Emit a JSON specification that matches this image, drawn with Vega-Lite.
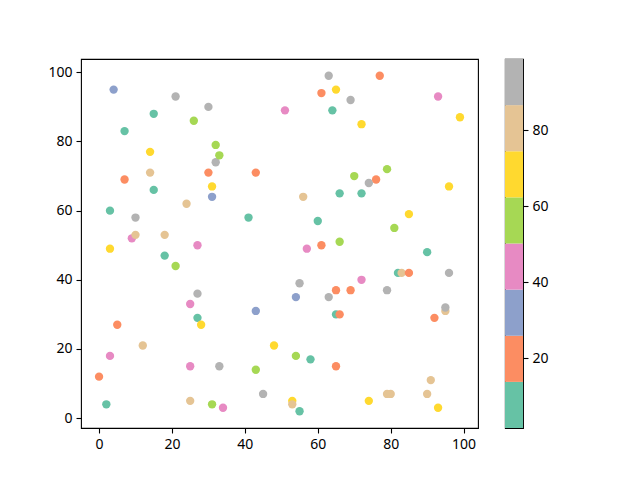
{
  "$schema": "https://vega.github.io/schema/vega-lite/v6.json",
  "background": "#ffffff",
  "padding": {"left": 47, "top": 58, "right": 5, "bottom": 5},
  "spacing": 25,
  "config": {
    "view": {"stroke": "#000000", "strokeWidth": 1.1},
    "axis": {
      "domain": false,
      "grid": false,
      "title": null,
      "labelFont": "Noto Sans",
      "labelFontSize": 14,
      "labelColor": "#000000",
      "tickColor": "#000000",
      "tickSize": 5,
      "tickWidth": 1.1,
      "labelPadding": 4
    }
  },
  "datasets": {
    "points": [
      {"x": 4, "y": 95, "c": 32}, {"x": 21, "y": 93, "c": 92}, {"x": 30, "y": 90, "c": 92},
      {"x": 15, "y": 88, "c": 7}, {"x": 26, "y": 86, "c": 56}, {"x": 7, "y": 83, "c": 7},
      {"x": 51, "y": 89, "c": 44}, {"x": 14, "y": 77, "c": 68}, {"x": 32, "y": 74, "c": 92},
      {"x": 32, "y": 79, "c": 56}, {"x": 33, "y": 76, "c": 56}, {"x": 14, "y": 71, "c": 80},
      {"x": 30, "y": 71, "c": 20}, {"x": 43, "y": 71, "c": 20}, {"x": 7, "y": 69, "c": 20},
      {"x": 31, "y": 67, "c": 68}, {"x": 15, "y": 66, "c": 7}, {"x": 31, "y": 64, "c": 32},
      {"x": 24, "y": 62, "c": 80}, {"x": 3, "y": 60, "c": 7}, {"x": 10, "y": 58, "c": 92},
      {"x": 41, "y": 58, "c": 7}, {"x": 9, "y": 52, "c": 44}, {"x": 10, "y": 53, "c": 80},
      {"x": 18, "y": 53, "c": 80}, {"x": 27, "y": 50, "c": 44}, {"x": 3, "y": 49, "c": 68},
      {"x": 63, "y": 99, "c": 92}, {"x": 77, "y": 99, "c": 20}, {"x": 61, "y": 94, "c": 20},
      {"x": 65, "y": 95, "c": 68}, {"x": 69, "y": 92, "c": 92}, {"x": 64, "y": 89, "c": 7},
      {"x": 93, "y": 93, "c": 44}, {"x": 99, "y": 87, "c": 68}, {"x": 72, "y": 85, "c": 68},
      {"x": 79, "y": 72, "c": 56}, {"x": 70, "y": 70, "c": 56}, {"x": 74, "y": 68, "c": 92},
      {"x": 76, "y": 69, "c": 20}, {"x": 96, "y": 67, "c": 68}, {"x": 56, "y": 64, "c": 80},
      {"x": 66, "y": 65, "c": 7}, {"x": 72, "y": 65, "c": 7}, {"x": 85, "y": 59, "c": 68},
      {"x": 60, "y": 57, "c": 7}, {"x": 81, "y": 55, "c": 56}, {"x": 66, "y": 51, "c": 56},
      {"x": 61, "y": 50, "c": 20}, {"x": 57, "y": 49, "c": 44}, {"x": 18, "y": 47, "c": 7},
      {"x": 21, "y": 44, "c": 56}, {"x": 27, "y": 36, "c": 92}, {"x": 25, "y": 33, "c": 44},
      {"x": 43, "y": 31, "c": 32}, {"x": 27, "y": 29, "c": 7}, {"x": 28, "y": 27, "c": 68},
      {"x": 5, "y": 27, "c": 20}, {"x": 12, "y": 21, "c": 80}, {"x": 48, "y": 21, "c": 68},
      {"x": 3, "y": 18, "c": 44}, {"x": 25, "y": 15, "c": 44}, {"x": 33, "y": 15, "c": 92},
      {"x": 43, "y": 14, "c": 56}, {"x": 0, "y": 12, "c": 20}, {"x": 45, "y": 7, "c": 92},
      {"x": 2, "y": 4, "c": 7}, {"x": 25, "y": 5, "c": 80}, {"x": 31, "y": 4, "c": 56},
      {"x": 34, "y": 3, "c": 44}, {"x": 90, "y": 48, "c": 7}, {"x": 82, "y": 42, "c": 7},
      {"x": 83, "y": 42, "c": 80}, {"x": 85, "y": 42, "c": 20}, {"x": 96, "y": 42, "c": 92},
      {"x": 72, "y": 40, "c": 44}, {"x": 55, "y": 39, "c": 92}, {"x": 65, "y": 37, "c": 20},
      {"x": 69, "y": 37, "c": 20}, {"x": 79, "y": 37, "c": 92}, {"x": 54, "y": 35, "c": 32},
      {"x": 63, "y": 35, "c": 92}, {"x": 95, "y": 31, "c": 80}, {"x": 95, "y": 32, "c": 92},
      {"x": 92, "y": 29, "c": 20}, {"x": 65, "y": 30, "c": 7}, {"x": 66, "y": 30, "c": 20},
      {"x": 54, "y": 18, "c": 56}, {"x": 58, "y": 17, "c": 7}, {"x": 65, "y": 15, "c": 20},
      {"x": 91, "y": 11, "c": 80}, {"x": 79, "y": 7, "c": 80}, {"x": 80, "y": 7, "c": 80},
      {"x": 90, "y": 7, "c": 80}, {"x": 74, "y": 5, "c": 68}, {"x": 53, "y": 5, "c": 68},
      {"x": 53, "y": 4, "c": 80}, {"x": 55, "y": 2, "c": 7}, {"x": 93, "y": 3, "c": 68}
    ],
    "bins": [
      {"lo": 1.6, "hi": 13.75, "c": 7},
      {"lo": 13.75, "hi": 25.9, "c": 20},
      {"lo": 25.9, "hi": 38.05, "c": 32},
      {"lo": 38.05, "hi": 50.2, "c": 44},
      {"lo": 50.2, "hi": 62.35, "c": 56},
      {"lo": 62.35, "hi": 74.5, "c": 68},
      {"lo": 74.5, "hi": 86.65, "c": 80},
      {"lo": 86.65, "hi": 98.8, "c": 92}
    ]
  },
  "hconcat": [
    {
      "width": 397,
      "height": 369,
      "data": {"name": "points"},
      "mark": {"type": "circle", "size": 70, "opacity": 1},
      "encoding": {
        "x": {
          "field": "x",
          "type": "quantitative",
          "scale": {"domain": [-4.95, 103.95], "nice": false, "zero": false},
          "axis": {"values": [0, 20, 40, 60, 80, 100]}
        },
        "y": {
          "field": "y",
          "type": "quantitative",
          "scale": {"domain": [-2.85, 103.85], "nice": false, "zero": false},
          "axis": {"values": [0, 20, 40, 60, 80, 100]}
        },
        "color": {
          "field": "c",
          "type": "quantitative",
          "scale": {
            "type": "quantize",
            "domain": [1.6, 98.8],
            "nice": false,
            "zero": false,
            "range": ["#66c2a5", "#fc8d62", "#8da0cb", "#e78ac3", "#a6d854", "#ffd92f", "#e5c494", "#b3b3b3"]
          },
          "legend": null
        }
      }
    },
    {
      "width": 18,
      "height": 369,
      "data": {"name": "bins"},
      "mark": {"type": "rect"},
      "encoding": {
        "x": {"value": 0},
        "x2": {"value": "width"},
        "y": {
          "field": "lo",
          "type": "quantitative",
          "scale": {"domain": [1.6, 98.8], "nice": false, "zero": false},
          "axis": {"orient": "right", "values": [20, 40, 60, 80]}
        },
        "y2": {"field": "hi"},
        "color": {
          "field": "c",
          "type": "quantitative",
          "scale": {
            "type": "quantize",
            "domain": [1.6, 98.8],
            "nice": false,
            "zero": false,
            "range": ["#66c2a5", "#fc8d62", "#8da0cb", "#e78ac3", "#a6d854", "#ffd92f", "#e5c494", "#b3b3b3"]
          },
          "legend": null
        }
      }
    }
  ]
}
